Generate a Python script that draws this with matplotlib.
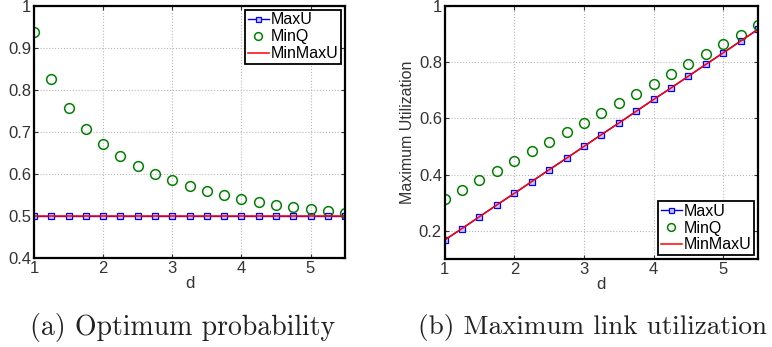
import matplotlib
matplotlib.use('Agg')
import matplotlib.pyplot as plt

plt.rcParams['font.family'] = ['Liberation Sans', 'DejaVu Sans']

# data
d = [1, 1.25, 1.5, 1.75, 2, 2.25, 2.5, 2.75, 3, 3.25, 3.5, 3.75, 4, 4.25, 4.5, 4.75, 5, 5.25, 5.5]

# (a) optimum probability
p_maxu = [0.5] * 19
p_minq = [0.939, 0.827, 0.757, 0.708, 0.671, 0.644, 0.620, 0.600, 0.585, 0.571,
          0.560, 0.551, 0.541, 0.534, 0.527, 0.521, 0.517, 0.513, 0.507]
p_minmaxu = [0.5] * 19

# (b) maximum link utilization
u_maxu = [0.167, 0.208, 0.250, 0.292, 0.333, 0.375, 0.417, 0.458, 0.500, 0.542,
          0.583, 0.625, 0.667, 0.708, 0.750, 0.792, 0.833, 0.875, 0.917]
u_minq = [0.312, 0.344, 0.380, 0.413, 0.447, 0.482, 0.516, 0.550, 0.585, 0.619,
          0.653, 0.688, 0.723, 0.759, 0.793, 0.828, 0.863, 0.897, 0.931]
u_minmaxu = u_maxu

labels = ['MaxU', 'MinQ', 'MinMaxU']
captions = ['(a) Optimum probability', '(b) Maximum link utilization']

fig = plt.figure(figsize=(7.72, 3.47), dpi=100)
ax1 = fig.add_axes([0.044, 0.256, 0.403, 0.727])
ax2 = fig.add_axes([0.576, 0.254, 0.406, 0.729])

txt = '#333333'


def draw(ax, maxu, minq, minmaxu, loc):
    ax.plot(d, maxu, 's-', color='blue', mfc=(0.78, 0.78, 1.0), mec='blue',
            ms=4.5, lw=1.0, mew=0.9, label=labels[0])
    ax.plot(d, minq, 'o', color='none', mfc='none', mec=(0, 0.5, 0),
            ms=7, mew=1.1, label=labels[1])
    ax.plot(d, minmaxu, '-', color='red', lw=1.1, label=labels[2])
    ax.set_xlim(1, 5.5)
    ax.set_xticks([1, 2, 3, 4, 5])
    ax.grid(True, linestyle=':', color='#b8b8b8', linewidth=0.8)
    ax.tick_params(direction='in', labelsize=12, length=3, width=0.8, pad=2,
                   top=True, right=True, colors=txt, labelcolor=txt)
    for s in ax.spines.values():
        s.set_linewidth(1.6)
        s.set_color('black')
    ax.set_xlabel('d', fontsize=12, color=txt, labelpad=0)
    leg = ax.legend(loc=loc, fontsize=11.5, handlelength=1.3, handletextpad=0.15,
                    borderpad=0.15, labelspacing=0.12, borderaxespad=0.25,
                    fancybox=False, framealpha=1, markerscale=0.8)
    leg.get_frame().set_edgecolor('black')
    leg.get_frame().set_linewidth(1.3)


draw(ax1, p_maxu, p_minq, p_minmaxu, 'upper right')
ax1.set_ylim(0.4, 1)
ax1.set_yticks([0.4, 0.5, 0.6, 0.7, 0.8, 0.9, 1])
ax1.set_yticklabels(['0.4', '0.5', '0.6', '0.7', '0.8', '0.9', '1'])
ax1.set_ylabel('P', fontsize=12, color=txt)
ax1.yaxis.set_label_coords(-0.1, 0.5)

draw(ax2, u_maxu, u_minq, u_minmaxu, 'lower right')
ax2.set_ylim(0.1, 1)
ax2.set_yticks([0.2, 0.4, 0.6, 0.8, 1])
ax2.set_yticklabels(['0.2', '0.4', '0.6', '0.8', '1'])
ax2.set_ylabel('Maximum Utilization', fontsize=11.5, color=txt, labelpad=3)

fig.text(0.236, 0.055, captions[0], ha='center', va='center', fontsize=20,
         family='cmr10', color='#222222')
fig.text(0.767, 0.055, captions[1], ha='center', va='center', fontsize=19.6,
         family='cmr10', color='#222222')

fig.savefig('out.png', dpi=100)
